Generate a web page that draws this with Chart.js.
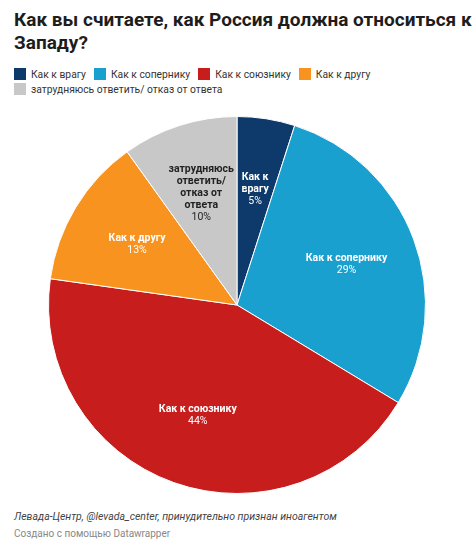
<!DOCTYPE html>
<html>
<head>
<meta charset="utf-8">
<script src="https://cdn.jsdelivr.net/npm/chart.js@4"></script>
<style>
  body { margin: 0; background: #fff; font-family: Roboto, "Liberation Sans", sans-serif; width: 474px; height: 545px; position: relative; overflow: hidden; }
  #title { position: absolute; left: 14px; top: 8px; width: 460px; font-size: 19px; font-weight: bold; line-height: 23px; color: #1d1d1d; }
  #legend { position: absolute; left: 14px; top: 67px; width: 450px; font-size: 10.3px; color: #333; line-height: 15px; }
  .item { display: inline-block; margin-right: 8px; white-space: nowrap; }
  .box { display: inline-block; width: 12px; height: 12px; vertical-align: -2px; margin-right: 5px; }
  #wrap { position: absolute; left: 0; top: 114px; width: 474px; height: 382px; }
  #src { position: absolute; left: 14px; top: 510px; font-size: 10.5px; font-style: italic; color: #444; }
  #made { position: absolute; left: 14px; top: 528px; font-size: 10px; color: #888; }
</style>
</head>
<body>
<div id="title">Как вы считаете, как Россия должна относиться к Западу?</div>
<div id="legend"></div>
<div id="wrap"><canvas id="chart"></canvas></div>
<div id="src">Левада-Центр, @levada_center, принудительно признан иноагентом</div>
<div id="made">Создано с помощью Datawrapper</div>
<script>
const categories = ["Как к врагу", "Как к сопернику", "Как к союзнику", "Как к другу", "затрудняюсь ответить/ отказ от ответа"];
const values = [5, 29, 44, 13, 10];
const colors = ["#0d3a6b", "#1aa0cf", "#c71e1d", "#f7931e", "#c8c8c8"];
const labelLines = [["Как к", "врагу"], ["Как к сопернику"], ["Как к союзнику"], ["Как к другу"], ["затрудняюсь", "ответить/", "отказ от", "ответа"]];
const labelColors = ["#fff", "#fff", "#fff", "#fff", "#222"];

document.getElementById("legend").innerHTML = categories.map((c, i) =>
  `<span class="item"><span class="box" style="background:${colors[i]}"></span>${c}</span>`
).join("");

const sliceLabels = {
  id: "sliceLabels",
  afterDatasetsDraw(chart) {
    const ctx = chart.ctx;
    const arcs = chart.getDatasetMeta(0).data;
    ctx.save();
    ctx.textAlign = "center";
    ctx.textBaseline = "middle";
    arcs.forEach((arc, i) => {
      const p = arc.getProps(["x", "y", "startAngle", "endAngle", "outerRadius"], true);
      const mid = (p.startAngle + p.endAngle) / 2;
      const r = p.outerRadius * 0.62;
      const cx = p.x + Math.cos(mid) * r;
      const cy = p.y + Math.sin(mid) * r;
      const lines = labelLines[i];
      const lh = 12;
      const total = lines.length + 1;
      let y = cy - (total - 1) * lh / 2;
      ctx.fillStyle = labelColors[i];
      ctx.font = "bold 10.5px Roboto, 'Liberation Sans', sans-serif";
      lines.forEach(l => { ctx.fillText(l, cx, y); y += lh; });
      ctx.font = "10.5px Roboto, 'Liberation Sans', sans-serif";
      ctx.fillText(values[i] + "%", cx, y);
    });
    ctx.restore();
  }
};

new Chart(document.getElementById("chart").getContext("2d"), {
  type: "pie",
  data: {
    labels: categories,
    datasets: [{
      data: values,
      backgroundColor: colors,
      borderColor: "#ffffff",
      borderWidth: 1
    }]
  },
  options: {
    responsive: true,
    maintainAspectRatio: false,
    animation: false,
    layout: { padding: 2 },
    plugins: {
      legend: { display: false },
      tooltip: { enabled: false }
    }
  },
  plugins: [sliceLabels]
});
</script>
</body>
</html>
